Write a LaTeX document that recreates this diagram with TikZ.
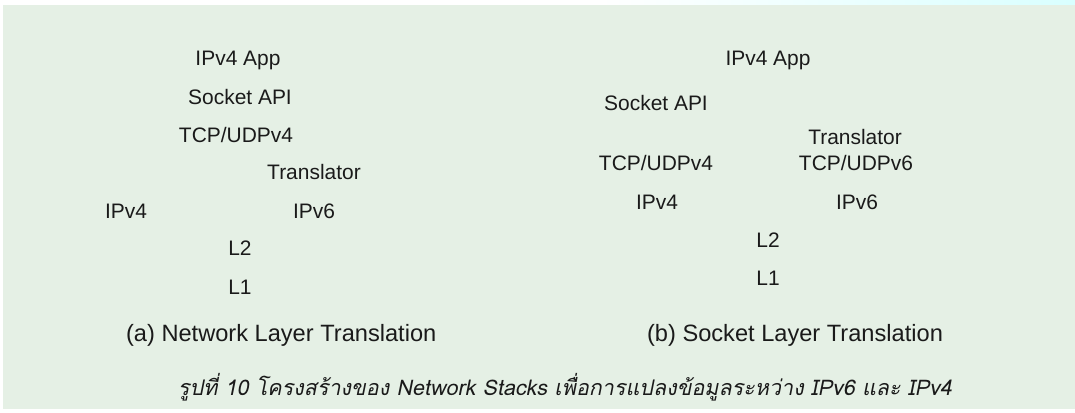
\documentclass[tikz,border=0pt]{standalone}
\usepackage{fontspec}
\setmainfont{Liberation Sans}
\newfontfamily\thaifont[Script=Thai,AutoFakeSlant=0.2]{Loma}
\definecolor{fondo}{HTML}{E5F0E5}
\definecolor{tinta}{HTML}{1A1A1A}
\tikzset{
  capa/.style={font=\fontsize{14.9}{18}\selectfont, text=tinta, inner sep=0pt, text height=10.7pt, text depth=0pt},
  subcap/.style={font=\fontsize{16.8}{20}\selectfont, text=tinta, inner sep=0pt, text height=12pt, text depth=0pt}
}
\begin{document}
\begin{tikzpicture}
\useasboundingbox (0,0) rectangle (26.875,10.3);
\fill[white] (0,0) rectangle (26.875,10.3); % papel
\shade[left color=white, right color=cyan!15] (15.0,10.175) rectangle (26.875,10.3); % franja arriba
\fill[fondo] (0.075,0.075) rectangle (26.875,10.175); % fondo

% (a) network layer
\node[capa] (aapp) at (5.95,8.85) {IPv4 App}; % app a
\node[capa] (asock) at (6.0,7.875) {Socket API}; % socket a
\node[capa] (atcp) at (5.9,6.925) {TCP/UDPv4}; % tcp a
\node[capa] (atrans) at (7.85,6.0) {Translator}; % translator a
\node[capa] (aipv4) at (3.15,5.025) {IPv4}; % ipv4 a
\node[capa] (aipv6) at (7.85,5.025) {IPv6}; % ipv6 a
\node[capa] (al2) at (6.0,4.1) {L2}; % l2 a
\node[capa] (al1) at (6.0,3.125) {L1}; % l1 a

% (b) socket layer
\node[capa] (bapp) at (19.2,8.85) {IPv4 App}; % app b
\node[capa] (bsock) at (16.4,7.725) {Socket API}; % socket b
\node[capa] (btrans) at (21.375,6.875) {Translator}; % translator b
\node[capa] (btcpv4) at (16.4,6.225) {TCP/UDPv4}; % tcp4 b
\node[capa] (btcpv6) at (21.4,6.225) {TCP/UDPv6}; % tcp6 b
\node[capa] (bipv4) at (16.425,5.25) {IPv4}; % ipv4 b
\node[capa] (bipv6) at (21.425,5.25) {IPv6}; % ipv6 b
\node[capa] (bl2) at (19.2,4.3) {L2}; % l2 b
\node[capa] (bl1) at (19.2,3.35) {L1}; % l1 b

\node[subcap] (capa-a) at (7.03,1.975) {(a) Network Layer Translation}; % pie a
\node[subcap] (capa-b) at (19.875,1.975) {(b) Socket Layer Translation}; % pie b

\node[anchor=base, inner sep=0pt, text=tinta, font=\thaifont\itshape\fontsize{15.3}{18}\selectfont] (pie) at (14.125,0.425) {รูปที่ 10 โครงสร้างของ Network Stacks เพื่อการแปลงข้อมูลระหว่าง IPv6 และ IPv4}; % pie figura
\end{tikzpicture}
\end{document}
